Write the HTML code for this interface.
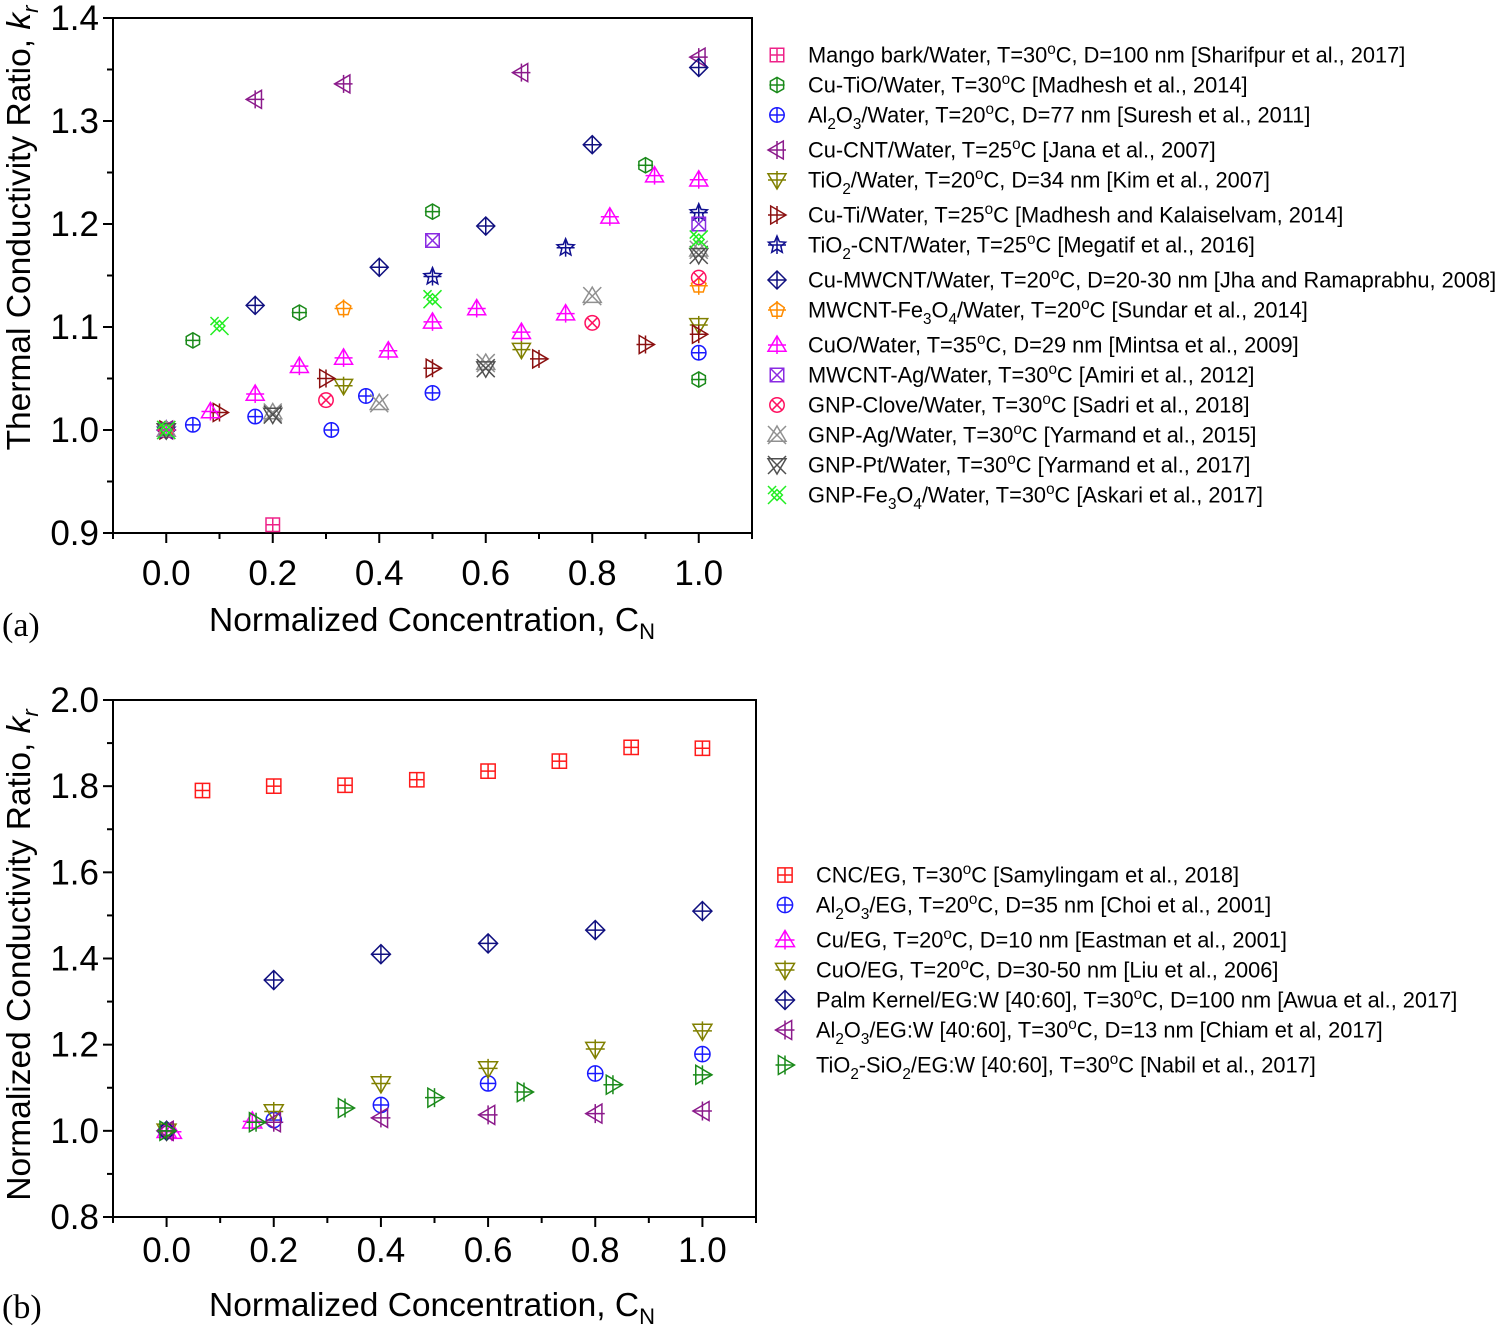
<!DOCTYPE html>
<html><head><meta charset="utf-8"><style>
body{margin:0;background:#fff;}
svg{display:block;font-family:"Liberation Sans",sans-serif;}
</style></head><body>
<svg id="chart" width="1500" height="1333" viewBox="0 0 1500 1333" xmlns="http://www.w3.org/2000/svg">
<g id="pa"></g>
<g id="pb"></g>
</svg>
<script>
const NS="http://www.w3.org/2000/svg";
// ---------- Panel (a) data ----------
const aNames=["Mango bark/Water, T=30|oC, D=100 nm [Sharifpur et al., 2017]","Cu-TiO/Water, T=30|oC [Madhesh et al., 2014]","Al_2O_3/Water, T=20|oC, D=77 nm [Suresh et al., 2011]","Cu-CNT/Water, T=25|oC [Jana et al., 2007]","TiO_2/Water, T=20|oC, D=34 nm [Kim et al., 2007]","Cu-Ti/Water, T=25|oC [Madhesh and Kalaiselvam, 2014]","TiO_2-CNT/Water, T=25|oC [Megatif et al., 2016]","Cu-MWCNT/Water, T=20|oC, D=20-30 nm [Jha and Ramaprabhu, 2008]","MWCNT-Fe_3O_4/Water, T=20|oC [Sundar et al., 2014]","CuO/Water, T=35|oC, D=29 nm [Mintsa et al., 2009]","MWCNT-Ag/Water, T=30|oC [Amiri et al., 2012]","GNP-Clove/Water, T=30|oC [Sadri et al., 2018]","GNP-Ag/Water, T=30|oC [Yarmand et al., 2015]","GNP-Pt/Water, T=30|oC [Yarmand et al., 2017]","GNP-Fe_3O_4/Water, T=30|oC [Askari et al., 2017]"];
const aColors=["#ee2288","#1a8a1a","#1a1aff","#8b1a8b","#808000","#8b1010","#101090","#101080","#ff8c00","#ff00ff","#8a2be2","#ff1060","#909090","#505050","#22ee22"];
const aShapes=["sqplus","hexplus","cirplus","triL","triD","triR","star","diaplus","pentplus","triU","sqx","cirx","triUx","triDx","dblx"];
const aX=[[0,0.2],[0,0.05,0.25,0.5,0.9,1.0],[0,0.05,0.167,0.31,0.375,0.5,1.0],[0,0.167,0.333,0.667,1.0],[0,0.333,0.667,1.0],[0,0.1,0.3,0.5,0.7,0.9,1.0],[0,0.5,0.75,1.0],[0,0.167,0.4,0.6,0.8,1.0],[0,0.333,1.0],[0,0.083,0.167,0.25,0.333,0.417,0.5,0.583,0.667,0.75,0.833,0.917,1.0],[0,0.5,1.0],[0,0.3,0.8,1.0],[0,0.2,0.4,0.6,0.8,1.0],[0,0.2,0.6,1.0],[0,0.1,0.5,1.0]];
const aY=[[1.0,0.908],[1.0,1.087,1.114,1.212,1.257,1.049],[1.0,1.005,1.013,1.0,1.033,1.036,1.075],[1.0,1.321,1.336,1.347,1.362],[1.0,1.043,1.078,1.102],[1.0,1.017,1.05,1.06,1.069,1.083,1.093],[1.0,1.149,1.177,1.211],[1.0,1.121,1.158,1.198,1.277,1.352],[1.0,1.118,1.14],[1.0,1.018,1.035,1.062,1.07,1.077,1.105,1.118,1.095,1.113,1.207,1.247,1.243],[1.0,1.184,1.2],[1.0,1.029,1.104,1.148],[1.0,1.017,1.026,1.065,1.13,1.175],[1.0,1.015,1.06,1.17],[1.0,1.101,1.127,1.185]];
const aXTicks=["0.0","0.2","0.4","0.6","0.8","1.0"];
const aYTicks=["0.9","1.0","1.1","1.2","1.3","1.4"];
// ---------- Panel (b) data ----------
const bNames=["CNC/EG, T=30|oC [Samylingam et al., 2018]","Al_2O_3/EG, T=20|oC, D=35 nm [Choi et al., 2001]","Cu/EG, T=20|oC, D=10 nm [Eastman et al., 2001]","CuO/EG, T=20|oC, D=30-50 nm [Liu et al., 2006]","Palm Kernel/EG:W [40:60], T=30|oC, D=100 nm [Awua et al., 2017]","Al_2O_3/EG:W [40:60], T=30|oC, D=13 nm [Chiam et al, 2017]","TiO_2-SiO_2/EG:W [40:60], T=30|oC [Nabil et al., 2017]"];
const bColors=["#ff1a1a","#1a1aff","#ff00ff","#808000","#101080","#8b1a8b","#1a8a1a"];
const bShapes=["sqplus","cirplus","triU","triD","diaplus","triL","triR"];
const bX=[[0.067,0.2,0.333,0.467,0.6,0.733,0.867,1.0],[0,0.2,0.4,0.6,0.8,1.0],[0,0.01,0.16],[0,0.2,0.4,0.6,0.8,1.0],[0,0.2,0.4,0.6,0.8,1.0],[0,0.2,0.4,0.6,0.8,1.0],[0,0.167,0.333,0.5,0.667,0.833,1.0]];
const bY=[[1.79,1.8,1.802,1.815,1.835,1.858,1.89,1.888],[1.0,1.025,1.06,1.11,1.133,1.178],[1.0,0.998,1.022],[1.0,1.045,1.11,1.145,1.19,1.232],[1.0,1.35,1.41,1.435,1.466,1.51],[1.0,1.02,1.03,1.037,1.04,1.046],[1.0,1.02,1.053,1.077,1.09,1.107,1.13]];
const bXTicks=["0.0","0.2","0.4","0.6","0.8","1.0"];
const bYTicks=["0.8","1.0","1.2","1.4","1.6","1.8","2.0"];

function el(tag,attrs,parent){const e=document.createElementNS(NS,tag);for(const k in attrs)e.setAttribute(k,attrs[k]);if(parent)parent.appendChild(e);return e;}
function richText(t,str,size){
  let i=0;const parts=[];let buf="";
  while(i<str.length){const c=str[i];
    if(c==="_"){if(buf){parts.push(["n",buf]);buf="";}parts.push(["sub",str[i+1]]);i+=2;}
    else if(c==="|"){if(buf){parts.push(["n",buf]);buf="";}parts.push(["sup",str[i+1]]);i+=2;}
    else{buf+=c;i++;}}
  if(buf)parts.push(["n",buf]);
  for(const [k,s] of parts){const ts=el("tspan",{},t);ts.textContent=s;
    if(k==="sub"){ts.setAttribute("font-size",size*0.7);ts.setAttribute("dy",size*0.3);}
    else if(k==="sup"){ts.setAttribute("font-size",size*0.7);ts.setAttribute("dy",-size*0.4);}
    if(k!=="n"){const back=el("tspan",{},t);back.textContent="\u200b";back.setAttribute("dy",k==="sub"?-size*0.3:size*0.4);}
  }
}
function marker(g,shape,cx,cy,r,col){
  const m=el("g",{fill:"none",stroke:col,"stroke-width":1.5},g);
  const L=(x1,y1,x2,y2)=>el("line",{x1:cx+x1,y1:cy+y1,x2:cx+x2,y2:cy+y2},m);
  const P=(pts)=>el("polygon",{points:pts.map(p=>(cx+p[0])+","+(cy+p[1])).join(" ")},m);
  const plus=()=>{L(-r,0,r,0);L(0,-r,0,r);};
  const xx=(s)=>{L(-s,-s,s,s);L(-s,s,s,-s);};
  const s=r*0.75;
  switch(shape){
    case "sqplus":P([[-s,-s],[s,-s],[s,s],[-s,s]]);L(-s,0,s,0);L(0,-s,0,s);break;
    case "sqx":P([[-s,-s],[s,-s],[s,s],[-s,s]]);xx(s);break;
    case "cirplus":el("circle",{cx,cy,r:r*0.8},m);L(-r*0.8,0,r*0.8,0);L(0,-r*0.8,0,r*0.8);break;
    case "cirx":el("circle",{cx,cy,r:r*0.8},m);xx(r*0.56);break;
    case "hexplus":{const p=[];for(let k=0;k<6;k++){const a=Math.PI/6+k*Math.PI/3;p.push([r*0.85*Math.cos(a),r*0.85*Math.sin(a)]);}P(p);L(-r*0.85,0,r*0.85,0);L(0,-r*0.85,0,r*0.85);break;}
    case "pentplus":{const p=[];for(let k=0;k<5;k++){const a=-Math.PI/2+k*2*Math.PI/5;p.push([r*0.85*Math.cos(a),r*0.85*Math.sin(a)]);}P(p);plus();break;}
    case "triU":P([[0,-r],[r,r*0.7],[-r,r*0.7]]);plus();break;
    case "triD":P([[0,r],[r,-r*0.7],[-r,-r*0.7]]);plus();break;
    case "triL":P([[-r,0],[r*0.7,-r],[r*0.7,r]]);plus();break;
    case "triR":P([[r,0],[-r*0.7,-r],[-r*0.7,r]]);plus();break;
    case "diaplus":P([[0,-r],[r,0],[0,r],[-r,0]]);plus();break;
    case "star":{const p=[];for(let k=0;k<10;k++){const a=-Math.PI/2+k*Math.PI/5;const rr=k%2?r*0.45:r;p.push([rr*Math.cos(a),rr*Math.sin(a)]);}P(p);plus();break;}
    case "triUx":P([[0,-r],[r,r*0.7],[-r,r*0.7]]);xx(r);break;
    case "triDx":P([[0,r],[r,-r*0.7],[-r,-r*0.7]]);xx(r);break;
    case "dblx":xx(r);P([[0,-r*0.6],[r*0.6,0],[0,r*0.6],[-r*0.6,0]]);L(-r,-r*0.1,-r*0.1,-r);break;
  }
  return m;
}
function panel(gid,opt){
  const g=document.getElementById(gid);
  const {x0,x1,y0,y1,xmin,xmax,ymin,ymax,yTicks,xTicks,yStep,names,colors,shapes,X,Y,r,leg,xlabOff}=opt;
  const sx=v=>x0+(v-xmin)/(xmax-xmin)*(x1-x0);
  const sy=v=>y1-(v-ymin)/(ymax-ymin)*(y1-y0);
  const frame=el("rect",{x:x0,y:y0,width:x1-x0,height:y1-y0,fill:"none",stroke:"#000","stroke-width":2},g);
  
  
  const xa=el("g",{},g);
  
  
  for(let k=-1;k<=11;k++){const v=k/10;const X0=sx(v);const major=(k%2===0&&k>=0&&k<=10);
    el("line",{x1:X0,y1:y1,x2:X0,y2:y1+(major?10:6),stroke:"#000","stroke-width":2},xa);}
  xTicks.forEach(t=>{const tx=el("text",{x:sx(parseFloat(t)),y:y1+xlabOff,"font-size":35,"text-anchor":"middle"},xa);tx.textContent=t;
    
    });
  const ya=el("g",{},g);
  
  
  for(let v=ymin;v<=ymax+1e-9;v+=yStep/2){const Y0=sy(v);const major=Math.abs(((v-ymin)/yStep)-Math.round((v-ymin)/yStep))<1e-6;
    el("line",{x1:x0,y1:Y0,x2:x0-(major?10:6),y2:Y0,stroke:"#000","stroke-width":2},ya);}
  yTicks.forEach(t=>{const tx=el("text",{x:x0-14,y:sy(parseFloat(t))+12,"font-size":35,"text-anchor":"end"},ya);tx.textContent=t;
    
    });
  const ser=el("g",{},g);
  
  
  X.forEach((xs,i)=>{const sg=el("g",{},ser);
    
    
    xs.forEach((xv,j)=>{const m=marker(sg,shapes[i],sx(xv),sy(Y[i][j]),r,colors[i]);
      
      });});
  const lg=el("g",{},g);
  
  
  names.forEach((n,i)=>{const e=el("g",{},lg);
    
    
    const yy=leg.ys[i];
    marker(e,shapes[i],leg.mx,yy,r,colors[i]);
    const t=el("text",{x:leg.tx,y:yy+7.5,"font-size":21.8},e);richText(t,n,21.8);});
}
panel("pa",{x0:113,x1:752,y0:18,y1:533,xmin:-0.1,xmax:1.1,ymin:0.9,ymax:1.4,yStep:0.1,yTicks:aYTicks,xTicks:aXTicks,names:aNames,colors:aColors,shapes:aShapes,X:aX,Y:aY,r:9,xlabOff:52,
  leg:{mx:777,tx:808,ys:[55,85,115,150,180,215,245,280,310,345,375,405,435,465,495]}});
panel("pb",{x0:113,x1:756,y0:700,y1:1217,xmin:-0.1,xmax:1.1,ymin:0.8,ymax:2.0,yStep:0.2,yTicks:bYTicks,xTicks:bXTicks,names:bNames,colors:bColors,shapes:bShapes,X:bX,Y:bY,r:9.5,xlabOff:45,
  leg:{mx:785,tx:816,ys:[875,905,940,970,1000,1030,1065]}});
const svg=document.getElementById("chart");
function title(x,y,rot,name){const t=el("text",{x,y,"font-size":33.5,"text-anchor":"middle"},svg);
  if(rot)t.setAttribute("transform","rotate(-90 "+x+" "+y+")");
  
  
  return t;}
let t=title(30,228,true,'y-axis-title-a');t.innerHTML='Thermal Conductivity Ratio, <tspan font-style="italic">k</tspan><tspan font-style="italic" font-size="22" dy="8">r</tspan>';
t=title(30,955,true,'y-axis-title-b');t.innerHTML='Normalized Conductivity Ratio, <tspan font-style="italic">k</tspan><tspan font-style="italic" font-size="22" dy="8">r</tspan>';
t=title(432,631,false,'x-axis-title-a');t.innerHTML='Normalized Concentration, C<tspan font-size="22" dy="8">N</tspan>';
t=title(432,1316,false,'x-axis-title-b');t.innerHTML='Normalized Concentration, C<tspan font-size="22" dy="8">N</tspan>';
function lab(x,y,s,name){const l=el("text",{x,y,"font-size":34,"font-family":"Liberation Serif, serif"},svg);l.textContent=s;
  
  }
lab(2,636,"(a)",'panel-label-a');
lab(2,1318,"(b)",'panel-label-b');
</script>
</body></html>
